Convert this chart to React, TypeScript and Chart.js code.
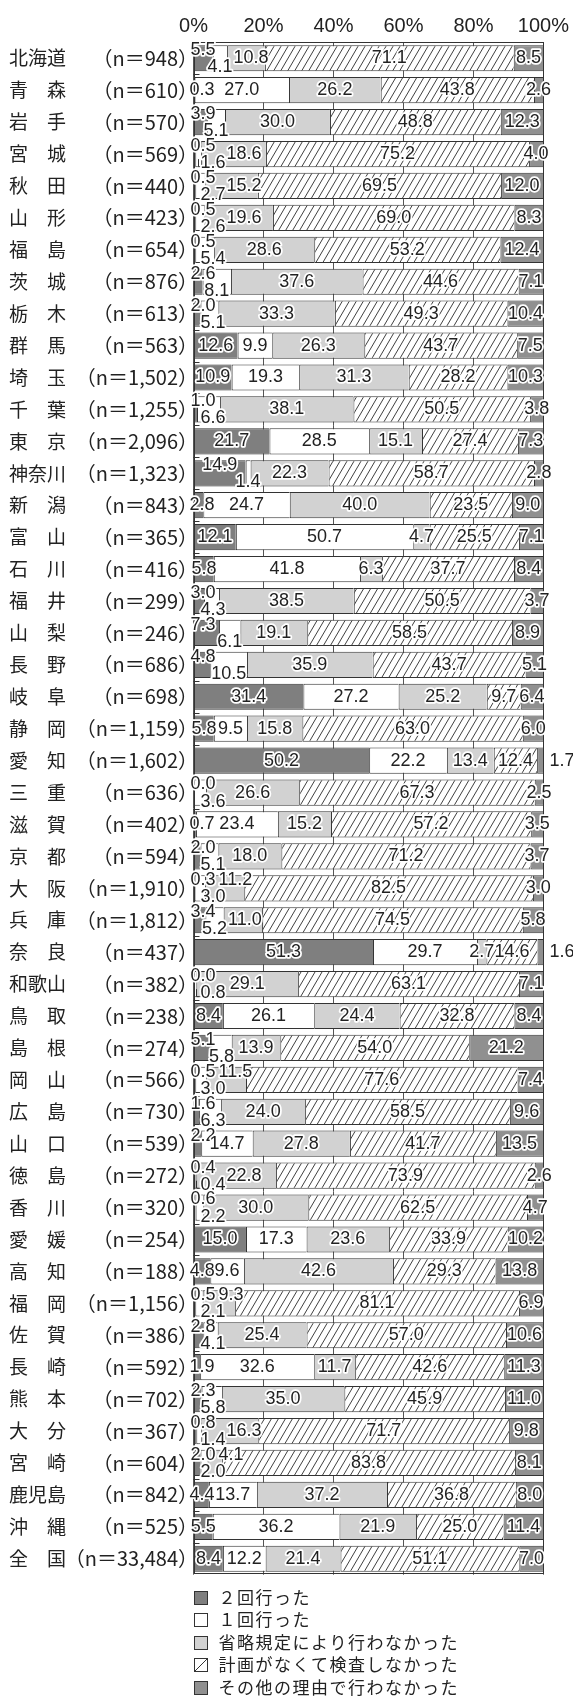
import React, { useEffect, useRef } from 'react';
import { Chart, registerables } from 'chart.js';

Chart.register(...registerables);

// ---- data ----
const prefectures = [
  '北海道', '青　森', '岩　手', '宮　城', '秋　田', '山　形', '福　島', '茨　城', '栃　木', '群　馬',
  '埼　玉', '千　葉', '東　京', '神奈川', '新　潟', '富　山', '石　川', '福　井', '山　梨', '長　野',
  '岐　阜', '静　岡', '愛　知', '三　重', '滋　賀', '京　都', '大　阪', '兵　庫', '奈　良', '和歌山',
  '鳥　取', '島　根', '岡　山', '広　島', '山　口', '徳　島', '香　川', '愛　媛', '高　知', '福　岡',
  '佐　賀', '長　崎', '熊　本', '大　分', '宮　崎', '鹿児島', '沖　縄', '全　国',
];
const sampleSizes = [
  '948', '610', '570', '569', '440', '423', '654', '876', '613', '563',
  '1,502', '1,255', '2,096', '1,323', '843', '365', '416', '299', '246', '686',
  '698', '1,159', '1,602', '636', '402', '594', '1,910', '1,812', '437', '382',
  '238', '274', '566', '730', '539', '272', '320', '254', '188', '1,156',
  '386', '592', '702', '367', '604', '842', '525', '33,484',
];
const twice = [
  5.5, 0.3, 3.9, 0.5, 0.5, 0.5, 0.5, 2.6, 2.0, 12.6,
  10.9, 1.0, 21.7, 14.9, 2.8, 12.1, 5.8, 3.0, 7.3, 4.8,
  31.4, 5.8, 50.2, 0.0, 0.7, 2.0, 0.3, 3.4, 51.3, 0.0,
  8.4, 5.1, 0.5, 1.6, 2.2, 0.4, 0.6, 15.0, 4.8, 0.5,
  2.8, 1.9, 2.3, 0.8, 2.0, 4.4, 5.5, 8.4,
];
const once = [
  4.1, 27.0, 5.1, 1.6, 2.7, 2.6, 5.4, 8.1, 5.1, 9.9,
  19.3, 6.6, 28.5, 1.4, 24.7, 50.7, 41.8, 4.3, 6.1, 10.5,
  27.2, 9.5, 22.2, 3.6, 23.4, 5.1, 3.0, 5.2, 29.7, 0.8,
  26.1, 5.8, 3.0, 6.3, 14.7, 0.4, 2.2, 17.3, 9.6, 2.1,
  4.1, 32.6, 5.8, 1.4, 2.0, 13.7, 36.2, 12.2,
];
const omitted = [
  10.8, 26.2, 30.0, 18.6, 15.2, 19.6, 28.6, 37.6, 33.3, 26.3,
  31.3, 38.1, 15.1, 22.3, 40.0, 4.7, 6.3, 38.5, 19.1, 35.9,
  25.2, 15.8, 13.4, 26.6, 15.2, 18.0, 11.2, 11.0, 2.7, 29.1,
  24.4, 13.9, 11.5, 24.0, 27.8, 22.8, 30.0, 23.6, 42.6, 9.3,
  25.4, 11.7, 35.0, 16.3, 4.1, 37.2, 21.9, 21.4,
];
const noPlan = [
  71.1, 43.8, 48.8, 75.2, 69.5, 69.0, 53.2, 44.6, 49.3, 43.7,
  28.2, 50.5, 27.4, 58.7, 23.5, 25.5, 37.7, 50.5, 58.5, 43.7,
  9.7, 63.0, 12.4, 67.3, 57.2, 71.2, 82.5, 74.5, 14.6, 63.1,
  32.8, 54.0, 77.6, 58.5, 41.7, 73.9, 62.5, 33.9, 29.3, 81.1,
  57.0, 42.6, 45.9, 71.7, 83.8, 36.8, 25.0, 51.1,
];
const otherReason = [
  8.5, 2.6, 12.3, 4.0, 12.0, 8.3, 12.4, 7.1, 10.4, 7.5,
  10.3, 3.8, 7.3, 2.8, 9.0, 7.1, 8.4, 3.7, 8.9, 5.1,
  6.4, 6.0, 1.7, 2.5, 3.5, 3.7, 3.0, 5.8, 1.6, 7.1,
  8.4, 21.2, 7.4, 9.6, 13.5, 2.6, 4.7, 10.2, 13.8, 6.9,
  10.6, 11.3, 11.0, 9.8, 8.1, 8.0, 11.4, 7.0,
];
const seriesNames = [
  '２回行った',
  '１回行った',
  '省略規定により行わなかった',
  '計画がなくて検査しなかった',
  'その他の理由で行わなかった',
];
const tickValues = [0, 20, 40, 60, 80, 100];

const series = [twice, once, omitted, noPlan, otherReason];

const LATIN = "'Liberation Sans', Arial, Helvetica, sans-serif";
const CJK = "'Noto Sans CJK JP', 'Noto Sans', sans-serif";
const INK = '#222222';
const EDGE = '#333333';
const DARK = '#7f7f7f';
const MID = '#909090';
const LIGHT = '#d2d2d2';

function makeHatch(): CanvasPattern | string {
  const w = 7;
  const h = 12;
  const c = document.createElement('canvas');
  c.width = w;
  c.height = h;
  const g = c.getContext('2d');
  if (!g) return '#ffffff';
  g.fillStyle = '#ffffff';
  g.fillRect(0, 0, w, h);
  g.strokeStyle = '#2a2a2a';
  g.lineWidth = 0.9;
  g.beginPath();
  const dx = w / h;
  g.moveTo(-dx * 2, h + 2);
  g.lineTo(w + dx * 2, -2);
  g.moveTo(-dx * 2, 2);
  g.lineTo(dx * 2, -2);
  g.moveTo(w - dx * 2, h + 2);
  g.lineTo(w + dx * 2, h - 2);
  g.stroke();
  return g.createPattern(c, 'repeat') || '#ffffff';
}

function haloText(ctx: CanvasRenderingContext2D, t: string, x: number, y: number) {
  ctx.lineWidth = 3.5;
  ctx.strokeStyle = '#ffffff';
  ctx.lineJoin = 'round';
  ctx.strokeText(t, x, y);
  ctx.fillStyle = INK;
  ctx.fillText(t, x, y);
}

const decorPlugin = {
  id: 'decor',
  afterDatasetsDraw(chart: any) {
    const ctx: CanvasRenderingContext2D = chart.ctx;
    const area = chart.chartArea;
    const yScale = chart.scales.y;
    const L = area.left;
    const R = area.right;
    ctx.save();

    // frame
    ctx.strokeStyle = EDGE;
    ctx.lineWidth = 1;
    ctx.strokeRect(Math.round(L) + 0.5, Math.round(area.top) + 0.5, Math.round(R - L) - 1, Math.round(area.bottom - area.top) - 1);

    // small inner marks at category boundaries
    ctx.beginPath();
    for (let i = 0; i < prefectures.length - 1; i++) {
      const y = Math.round((yScale.getPixelForValue(i) + yScale.getPixelForValue(i + 1)) / 2) + 0.5;
      ctx.moveTo(L, y);
      ctx.lineTo(L + 6, y);
    }
    ctx.stroke();

    // value labels
    ctx.font = `18px ${LATIN}`;
    ctx.textBaseline = 'middle';
    ctx.textAlign = 'left';
    const metas = series.map((_, d) => chart.getDatasetMeta(d));
    for (let i = 0; i < prefectures.length; i++) {
      const vals = series.map((s) => s[i]);
      const bars = metas.map((m: any) => m.data[i].getProps(['x', 'y', 'base', 'height'], true));
      const M = bars[0].y;
      const T = M - bars[0].height / 2;
      const B = M + bars[0].height / 2;
      const seg = bars.map((b: any) => ({ s: Math.min(b.base, b.x), e: Math.max(b.base, b.x) }));
      const center = (k: number) => (seg[k].s + seg[k].e) / 2;
      const txt = vals.map((v) => v.toFixed(1));
      const tw = txt.map((t) => ctx.measureText(t).width);
      const topY = T + 5;
      const botY = B - 4;
      const out: { t: string; x: number; y: number }[] = [];
      const a = vals[0];
      const b = vals[1];
      const firstLeft = Math.max(center(0) - tw[0] / 2, L - 4);
      const inlineClash = firstLeft + tw[0] > center(1) - tw[1] / 2 + 1;
      let start = 0;
      if (a < 2.5 && b >= 9 && b < 15) {
        out.push({ t: txt[0], x: L - 3, y: topY });
        out.push({ t: txt[1], x: Math.max(center(1) - tw[1] / 2, L + 12), y: M });
        start = 2;
      } else if (a < 8 && inlineClash) {
        const aLeft = L - 3;
        out.push({ t: txt[0], x: aLeft, y: topY });
        const bLeft = Math.max(L + 7, center(1) - tw[1] / 2);
        out.push({ t: txt[1], x: bLeft, y: botY });
        if (center(1) < bLeft - 2) {
          const lx = Math.round(Math.max(L + 2, center(1))) + 0.5;
          ctx.strokeStyle = EDGE;
          ctx.lineWidth = 1;
          ctx.beginPath();
          ctx.moveTo(lx, B - 8);
          ctx.lineTo(lx, B - 0.5);
          ctx.lineTo(bLeft - 1, B - 0.5);
          ctx.stroke();
        }
        let cLeft = center(2) - tw[2] / 2;
        const cMin = bLeft + tw[1] + 1;
        if (cLeft < cMin) {
          cLeft = cMin;
          if (cLeft + tw[2] > seg[2].e + 14) {
            out.push({ t: txt[2], x: aLeft + tw[0] + 3, y: topY });
          } else {
            out.push({ t: txt[2], x: cLeft, y: M });
          }
        } else {
          out.push({ t: txt[2], x: cLeft, y: M });
        }
        start = 3;
      } else if (b < 2.5) {
        out.push({ t: txt[0], x: center(0) - tw[0] / 2, y: topY });
        out.push({ t: txt[1], x: center(1) - tw[1] / 2, y: botY });
        start = 2;
      }
      for (let k = start; k < 5; k++) {
        let x: number;
        if (k === 0) {
          x = firstLeft;
        } else if (k === 4 && vals[4] < 2) {
          x = R + 6;
        } else {
          x = center(k) - tw[k] / 2;
        }
        out.push({ t: txt[k], x, y: M });
      }
      for (const o of out) haloText(ctx, o.t, o.x, o.y);
    }
    ctx.restore();
  },
  afterDraw(chart: any) {
    const ctx: CanvasRenderingContext2D = chart.ctx;
    const area = chart.chartArea;
    const yScale = chart.scales.y;
    const L = area.left;
    ctx.save();
    ctx.fillStyle = INK;
    ctx.textBaseline = 'middle';
    for (let i = 0; i < prefectures.length; i++) {
      const y = yScale.getPixelForValue(i);
      ctx.font = `19px ${CJK}`;
      ctx.textAlign = 'left';
      ctx.fillText(prefectures[i], 9, y);
      ctx.font = `20px ${CJK}`;
      ctx.textAlign = 'right';
      ctx.fillText(`（n＝${sampleSizes[i]}）`, L + 4.5, y);
    }

    // legend
    const fills = [DARK, '#ffffff', LIGHT, 'hatch', MID];
    ctx.font = `17px ${CJK}`;
    ctx.textAlign = 'left';
    for (let k = 0; k < seriesNames.length; k++) {
      const cy = area.bottom + 22.5 * (k + 1);
      const sx = Math.round(L) + 0.5;
      const sy = Math.round(cy - 6.5) + 0.5;
      const s = 13;
      ctx.fillStyle = fills[k] === 'hatch' ? '#ffffff' : fills[k];
      ctx.fillRect(sx, sy, s, s);
      ctx.strokeStyle = EDGE;
      ctx.lineWidth = 1;
      ctx.strokeRect(sx, sy, s, s);
      if (fills[k] === 'hatch') {
        ctx.beginPath();
        ctx.moveTo(sx, sy + s);
        ctx.lineTo(sx + s, sy);
        ctx.stroke();
      }
      let tx = L + 25;
      ctx.fillStyle = INK;
      for (const ch of seriesNames[k]) {
        ctx.fillText(ch, tx, cy);
        tx += ctx.measureText(ch).width + 1.5;
      }
    }
    ctx.restore();
  },
};

export default function App() {
  const ref = useRef<HTMLCanvasElement>(null);
  useEffect(() => {
    const canvas = ref.current;
    if (!canvas) return;
    const hatch = makeHatch();
    const fills: any[] = [DARK, '#ffffff', LIGHT, hatch, MID];
    const chart = new Chart(canvas, {
      type: 'bar',
      data: {
        labels: prefectures,
        datasets: series.map((s, d) => ({
          label: seriesNames[d],
          data: s,
          backgroundColor: fills[d],
          borderColor: EDGE,
          borderWidth: { top: 1, bottom: 1, left: 1, right: 0 },
          borderSkipped: false,
          barPercentage: 0.82,
          categoryPercentage: 1,
        })),
      },
      options: {
        indexAxis: 'y',
        responsive: false,
        animation: false,
        devicePixelRatio: 1,
        layout: { padding: { left: 193.5, right: 27.5, top: 10.3, bottom: 123.3 } },
        plugins: { legend: { display: false }, tooltip: { enabled: false } },
        scales: {
          x: {
            stacked: true,
            position: 'top',
            min: 0,
            max: 100,
            afterBuildTicks: (scale: any) => {
              scale.ticks = tickValues.map((v) => ({ value: v }));
            },
            ticks: {
              callback: (v: any) => `${v}%`,
              font: { family: LATIN, size: 20 },
              color: INK,
              padding: 4,
              maxRotation: 0,
              autoSkip: false,
            },
            grid: { color: '#555555', lineWidth: 1, drawTicks: false },
            border: { display: false },
          },
          y: {
            stacked: true,
            display: false,
          },
        },
      } as any,
      plugins: [decorPlugin],
    });
    return () => chart.destroy();
  }, []);
  return (
    <div style={{ position: 'absolute', left: 0, top: 0, width: 573, height: 1698, background: '#fff' }}>
      <canvas ref={ref} width={573} height={1698} style={{ width: 573, height: 1698, display: 'block' }} />
    </div>
  );
}
